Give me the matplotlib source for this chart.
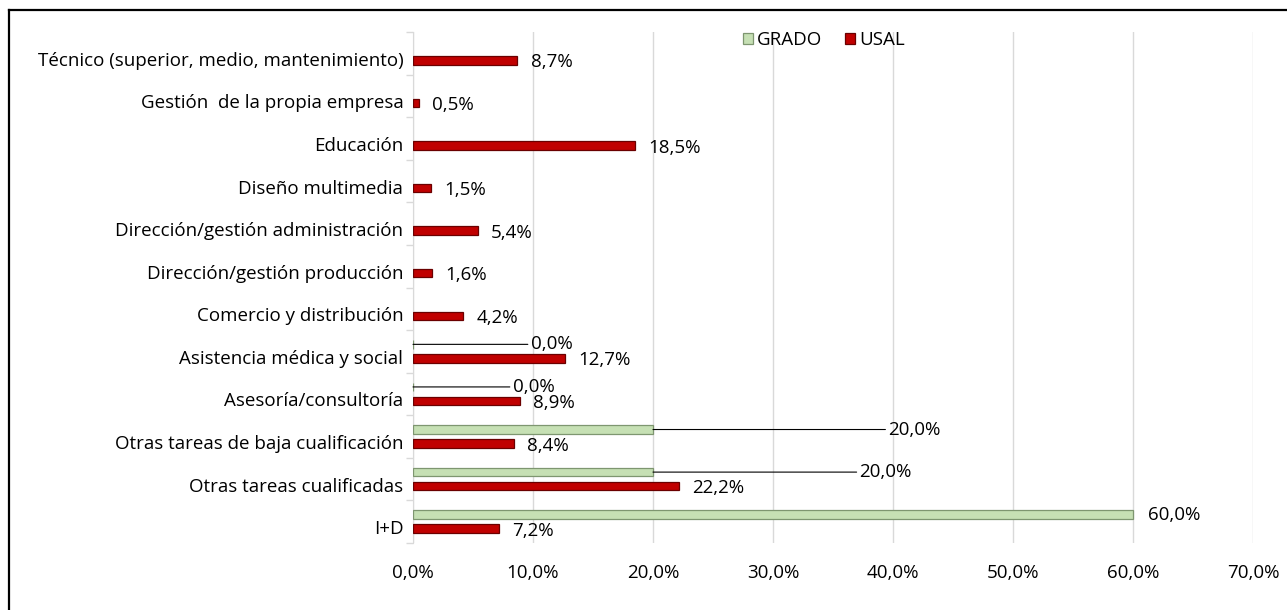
import matplotlib
matplotlib.use("Agg")
from matplotlib import pyplot as plt
from matplotlib.lines import Line2D
import numpy as np

categories = ['I+D', 'Otras tareas cualificadas', 'Otras tareas de baja cualificación',
              'Asesoría/consultoría', 'Asistencia médica y social', 'Comercio y distribución',
              'Dirección/gestión producción', 'Dirección/gestión administración',
              'Diseño multimedia', 'Educación', 'Gestión  de la propia empresa',
              'Técnico (superior, medio, mantenimiento)']
usal = [7.2, 22.2, 8.4, 8.9, 12.7, 4.2, 1.6, 5.4, 1.5, 18.5, 0.5, 8.7]
grado = [60.0, 20.0, 20.0, 0.0, 0.0]
# where the GRADO data labels sit (x in %) for the ones with leader lines
grado_label_x = [None, 37.2, 39.6, 8.3, 9.8]

plt.rcParams['font.family'] = ['Open Sans', 'DejaVu Sans']
plt.rcParams['font.size'] = 13.5


def fmt(v):
    return f'{v:.1f}%'.replace('.', ',')


def plot():
    fig = plt.figure(figsize=(12.87, 6.10), dpi=100)
    ax = fig.add_axes([413 / 1287, 1 - 543 / 610, 840 / 1287, 511 / 610])

    y = np.arange(len(categories))
    off = 0.165
    h = 0.2
    red = '#C00000'
    green = '#C6E0B4'

    ax.barh(y - off, usal, h, color=red, edgecolor='#6A0000', linewidth=0.9, label='USAL', zorder=3)
    yg = y[:len(grado)] + off
    ax.barh(yg, grado, h, color=green, edgecolor='#7E9670', linewidth=0.9, label='GRADO', zorder=3)

    for yi, v in zip(y - off, usal):
        ax.annotate(fmt(v), (v, yi), xytext=(9.5, -1.5), textcoords='offset points',
                    ha='left', va='center')

    for yi, v, lx in zip(yg, grado, grado_label_x):
        if lx is None:
            ax.annotate(fmt(v), (v, yi), xytext=(11, 0), textcoords='offset points',
                        ha='left', va='center')
        else:
            ax.annotate(fmt(v), (v, yi), xytext=(lx, yi), textcoords='data',
                        ha='left', va='center',
                        arrowprops=dict(arrowstyle='-', color='black', lw=0.8,
                                        shrinkA=0, shrinkB=0))

    ax.set_xlim(0, 70)
    ax.set_ylim(-0.5, len(categories) - 0.5)
    ax.set_xticks(np.arange(0, 71, 10))
    ax.set_xticklabels([fmt(v) for v in np.arange(0, 71, 10)])
    # category labels sit level with the USAL bars, like in the original
    ax.set_yticks(y - 0.13)
    ax.set_yticklabels(categories)
    ax.set_yticks(np.arange(-0.5, len(categories), 1), minor=True)
    ax.tick_params(axis='y', which='major', length=0, pad=7)
    ax.tick_params(axis='y', which='minor', length=5, color='#D9D9D9', width=1)
    ax.tick_params(axis='x', length=0, pad=15)
    ax.grid(axis='x', color='#D9D9D9', linewidth=1, zorder=0)
    ax.set_axisbelow(True)
    for s in ['top', 'right', 'bottom']:
        ax.spines[s].set_visible(False)
    ax.spines['left'].set_color('#D9D9D9')

    handles, labels = ax.get_legend_handles_labels()
    ax.legend(handles[::-1], labels[::-1], loc='center left', bbox_to_anchor=(0.384, 0.984),
              ncol=2, frameon=False, handlelength=0.55, handleheight=0.55,
              handletextpad=0.2, columnspacing=1.2, borderaxespad=0)

    fig.add_artist(Line2D([9 / 1287, 9 / 1287], [0, 1 - 10 / 610], color='black', lw=1.6,
                          transform=fig.transFigure))
    fig.add_artist(Line2D([9 / 1287, 1], [1 - 10 / 610, 1 - 10 / 610], color='black', lw=1.6,
                          transform=fig.transFigure))

    fig.savefig('out.png', dpi=100)


if __name__ == "__main__":
    plot()
